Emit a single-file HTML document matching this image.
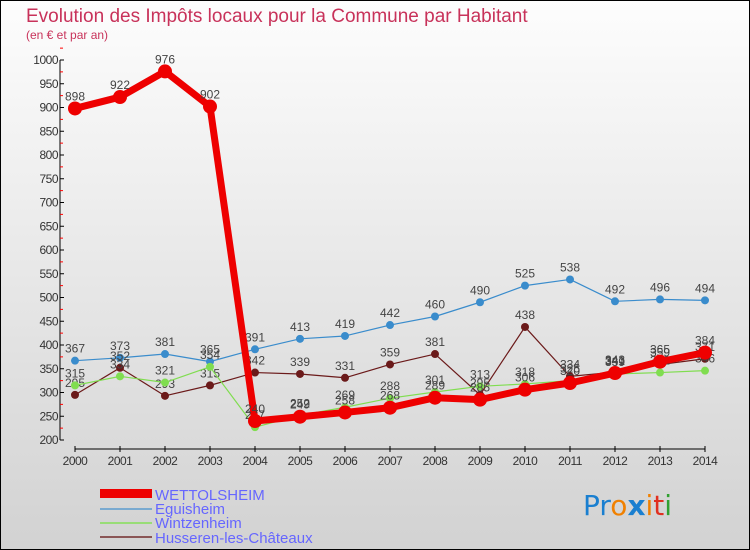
<!DOCTYPE html>
<html><head><meta charset="utf-8"><style>
body{margin:0;width:750px;height:550px;overflow:hidden;font-family:"Liberation Sans",sans-serif}
#wrap{position:absolute;left:0;top:0;width:748px;height:548px;border:1px solid #000;background:linear-gradient(#fdfdfd,#d2d2d2)}
</style></head><body>
<div id="wrap">
<svg id="chart" width="750" height="550" style="position:absolute;left:-1px;top:-1px">
<text x="26" y="22" font-size="19" fill="#c8325a">Evolution des Impôts locaux pour la Commune par Habitant</text>
<text x="26" y="39" font-size="12" fill="#c8325a">(en € et par an)</text>
<g id="axes"></g><g id="series"></g>
<g>
<rect x="100" y="489" width="52" height="9" fill="#e00"/>
<text x="155" y="500" font-size="15" fill="#6666ff">WETTOLSHEIM</text>
<line x1="100" y1="509" x2="152" y2="509" stroke="#7aaad0" stroke-width="2"/>
<text x="155" y="514" font-size="15" fill="#6666ff">Eguisheim</text>
<line x1="100" y1="523" x2="152" y2="523" stroke="#99dd77" stroke-width="2"/>
<text x="155" y="528" font-size="15" fill="#6666ff">Wintzenheim</text>
<line x1="100" y1="537" x2="152" y2="537" stroke="#8a5555" stroke-width="2"/>
<text x="155" y="543" font-size="15" fill="#6666ff">Husseren-les-Châteaux</text>
</g>
<text x="583" y="515" font-size="28" font-family="DejaVu Sans"><tspan fill="#1a7fd0">Pr</tspan><tspan fill="#f08000">o</tspan><tspan fill="#1a7fd0" font-weight="bold">x</tspan><tspan fill="#f08000">i</tspan><tspan fill="#e03020">t</tspan><tspan fill="#30a030">i</tspan></text>
</svg></div>
<script>
const years=[2000,2001,2002,2003,2004,2005,2006,2007,2008,2009,2010,2011,2012,2013,2014];
const wettolsheim=[898,922,976,902,240,249,258,268,289,285,306,320,341,365,384];
const eguisheim=[367,373,381,365,391,413,419,442,460,490,525,538,492,496,494];
const wintzenheim=[315,334,321,354,227,252,269,288,301,313,318,325,339,342,346];
const husseren=[295,352,293,315,342,339,331,359,381,295,438,334,343,359,371];
const yTicks=[200,250,300,350,400,450,500,550,600,650,700,750,800,850,900,950,1000];
const NS="http://www.w3.org/2000/svg";
function x(i){return 75+i*45;}
function y(v){return 440-(v-200)*0.475;}
function mk(t,a,p){const e=document.createElementNS(NS,t);for(const k in a)e.setAttribute(k,a[k]);p.appendChild(e);return e;}
const ax=document.getElementById('axes');
let l=mk('line',{x1:60,y1:y(1000),x2:60,y2:y(200),stroke:'#000'},ax);


yTicks.forEach(v=>{
 const t=mk('line',{x1:60,y1:y(v),x2:64,y2:y(v),stroke:'#000'},ax);
 
 
 const m=mk('line',{x1:60,y1:y(v+25),x2:63,y2:y(v+25),stroke:'#f00'},ax);
 
 
 const s=mk('text',{x:58,y:y(v)+4,'font-size':12,'text-anchor':'end',fill:'#333','letter-spacing':'-0.5'},ax);
 s.textContent=v;
 
 
});
l=mk('line',{x1:75,y1:449,x2:705,y2:449,stroke:'#000'},ax);


years.forEach((yr,i)=>{
 const t=mk('line',{x1:x(i),y1:446,x2:x(i),y2:452,stroke:'#000'},ax);
 
 
 const s=mk('text',{x:x(i),y:465,'font-size':12,'text-anchor':'middle',fill:'#333','letter-spacing':'-0.5'},ax);
 s.textContent=yr;
 
 
});
const sg=document.getElementById('series');
function draw(vals,color,w,r,name){
 const g=mk('g',{},sg);
 
 
 const p=mk('polyline',{points:vals.map((v,i)=>x(i)+','+y(v)).join(' '),fill:'none',stroke:color,'stroke-width':w,'stroke-linejoin':'round'},g);
 
 
 vals.forEach((v,i)=>{
  const c=mk('circle',{cx:x(i),cy:y(v),r:r,fill:color},g);
  
  
  const t=mk('text',{x:x(i),y:y(v)-8,'font-size':12,'text-anchor':'middle',fill:'#444'},g);
  t.textContent=v;
  
  
 });
}
draw(eguisheim,'#3a8ccc',1.2,4,'eguisheim');
draw(husseren,'#6b1a1a',1.2,4,'husseren');
draw(wintzenheim,'#80dd50',1.2,4,'wintzenheim');
draw(wettolsheim,'#ee0000',7,7,'wettolsheim');
</script>
</body></html>
